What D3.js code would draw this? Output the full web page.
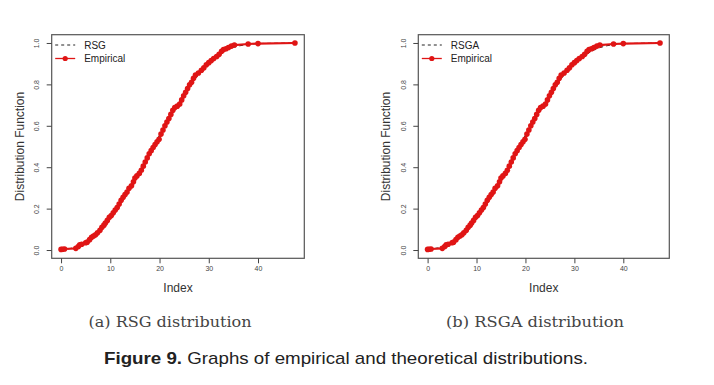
<!DOCTYPE html>
<html>
<head>
<meta charset="utf-8">
<script src="https://cdn.jsdelivr.net/npm/d3@7"></script>
<style>
  body { margin: 0; background: #fff; }
  svg { display: block; }
</style>
</head>
<body>
<svg id="fig" width="714" height="385"></svg>
<script>
// empirical distribution (sorted sample, cumulative proportion)
let empX = [0, 0.3, 0.7, 3.0, 3.5, 3.8, 4.2, 5.0, 5.3, 5.8, 6.2, 6.6, 7.0, 7.4, 7.9, 8.3, 8.7, 9.0, 9.4, 9.8,
    10.2, 10.6, 11.0, 11.4, 11.8, 12.2, 12.6, 13.0, 13.4, 13.8, 14.3, 14.7, 15.0, 15.4, 15.9, 16.3, 16.7, 17.1,
    17.5, 17.9, 18.3, 18.7, 19.1, 19.5, 19.9, 20.3, 20.7, 21.1, 21.5, 21.9, 22.3, 22.7, 23.1, 23.6, 24.1, 24.5,
    24.9, 25.3, 25.7, 26.1, 26.5, 26.9, 27.3, 27.9, 28.5, 29.0, 29.5, 30.0, 30.5, 31.0, 31.6, 32.1, 32.6, 33.0,
    33.5, 34.0, 34.6, 35.2, 38.0, 40.0, 47.5];
let empY = [0.003, 0.004, 0.005, 0.008, 0.017, 0.025, 0.028, 0.035, 0.038, 0.05, 0.062, 0.068, 0.074, 0.083, 0.095,
    0.11, 0.12, 0.13, 0.143, 0.158, 0.167, 0.18, 0.193, 0.205, 0.222, 0.24, 0.255, 0.268, 0.28, 0.298, 0.31, 0.33,
    0.348, 0.358, 0.37, 0.385, 0.405, 0.425, 0.445, 0.465, 0.48, 0.495, 0.51, 0.523, 0.535, 0.56, 0.58, 0.6, 0.618,
    0.635, 0.655, 0.675, 0.688, 0.695, 0.705, 0.725, 0.745, 0.762, 0.78, 0.798, 0.81, 0.83, 0.845, 0.855, 0.868,
    0.88, 0.895, 0.905, 0.915, 0.925, 0.935, 0.945, 0.96, 0.968, 0.972, 0.978, 0.985, 0.99, 0.995, 0.997, 1.0];

// theoretical curves
let theoX = [0, 2, 4, 6, 8, 10, 12, 14, 16, 18, 20, 22, 24, 26, 28, 30, 32, 34, 36, 38, 40, 44, 47.5];
let rsgY = [0.002, 0.008, 0.025, 0.055, 0.10, 0.155, 0.225, 0.30, 0.385, 0.47, 0.555, 0.64, 0.715, 0.785, 0.85,
    0.90, 0.94, 0.97, 0.985, 0.993, 0.997, 0.999, 1.0];
let rsgaY = [0.003, 0.01, 0.027, 0.057, 0.10, 0.152, 0.218, 0.295, 0.38, 0.468, 0.555, 0.64, 0.718, 0.787, 0.848,
    0.898, 0.937, 0.966, 0.983, 0.992, 0.996, 0.999, 1.0];

let xTicks = [0, 10, 20, 30, 40];
let yTicks = [0, 0.2, 0.4, 0.6, 0.8, 1.0];

let panels = [
    {left: 51.7, right: 304.3, name: 'RSG', theo: rsgY, caption: '(a) RSG distribution', capX: 170, capW: 163},
    {left: 418.3, right: 669.3, name: 'RSGA', theo: rsgaY, caption: '(b) RSGA distribution', capX: 535, capW: 178}
];
let plotTop = 34.7, plotBottom = 258.3;
let RED = '#e01515';
let SANS = 'Liberation Sans, Arial, sans-serif';

let svg = d3.select('#fig');

panels.forEach(p => {
    let x = d3.scaleLinear().domain([-1.9, 49.4]).range([p.left, p.right]);
    let y = d3.scaleLinear().domain([-0.04, 1.04]).range([plotBottom, plotTop]);
    let g = svg.append('g');

    // theoretical dashed
    let theoLine = d3.line().x((d, i) => x(theoX[i])).y(d => y(d)).curve(d3.curveMonotoneX);
    g.append('path')
        .attr('d', theoLine(p.theo))
        .attr('fill', 'none')
        .attr('stroke', '#222')
        .attr('stroke-width', 1)
        .attr('stroke-dasharray', '4,3');

    // empirical line + points
    let empLine = d3.line().x((d, i) => x(empX[i])).y(d => y(d));
    g.append('path')
        .attr('d', empLine(empY))
        .attr('fill', 'none')
        .attr('stroke', RED)
        .attr('stroke-width', 2.2);
    g.selectAll('circle.pt')
        .data(empY)
        .enter()
        .append('circle')
        .attr('class', 'pt')
        .attr('cx', (d, i) => x(empX[i]))
        .attr('cy', d => y(d))
        .attr('r', 2.8)
        .attr('fill', RED);

    // box
    g.append('rect')
        .attr('x', p.left).attr('y', plotTop)
        .attr('width', p.right - p.left).attr('height', plotBottom - plotTop)
        .attr('fill', 'none')
        .attr('stroke', '#555')
        .attr('stroke-width', 1.2);

    // axes
    let xAxis = d3.axisBottom(x).tickValues(xTicks).tickSize(5).tickPadding(3).tickFormat(d3.format('d'));
    let gx = g.append('g').attr('transform', 'translate(0,' + plotBottom + ')').call(xAxis);
    gx.select('.domain').remove();
    gx.selectAll('line').attr('stroke', '#444');
    gx.selectAll('text').attr('font-family', SANS).attr('font-size', 7).attr('fill', '#444');

    let yAxis = d3.axisLeft(y).tickValues(yTicks).tickSize(5).tickFormat(d3.format('.1f'));
    let gy = g.append('g').attr('transform', 'translate(' + p.left + ',0)').call(yAxis);
    gy.select('.domain').remove();
    gy.selectAll('line').attr('stroke', '#444');
    gy.selectAll('text')
        .attr('font-family', SANS)
        .attr('font-size', 7).attr('fill', '#444')
        .attr('x', 0).attr('dy', null)
        .attr('text-anchor', 'middle')
        .attr('transform', 'translate(-12.5,0) rotate(-90)');

    // axis titles
    g.append('text')
        .attr('x', (p.left + p.right) / 2).attr('y', 292)
        .attr('text-anchor', 'middle')
        .attr('font-family', SANS)
        .attr('font-size', 12).attr('fill', '#333')
        .text('Index');
    g.append('text')
        .attr('transform', 'translate(' + (p.left - 28) + ',' + (plotTop + plotBottom) / 2 + ') rotate(-90)')
        .attr('text-anchor', 'middle')
        .attr('font-family', SANS)
        .attr('font-size', 12).attr('fill', '#333')
        .text('Distribution Function');

    // legend
    let lx = p.left + 3.5;
    g.append('line')
        .attr('x1', lx).attr('x2', lx + 20).attr('y1', 45).attr('y2', 45)
        .attr('stroke', '#222').attr('stroke-dasharray', '3,3');
    g.append('text')
        .attr('x', lx + 29).attr('y', 48.5)
        .attr('font-family', SANS)
        .attr('font-size', 10).attr('fill', '#222')
        .text(p.name);
    g.append('line')
        .attr('x1', lx).attr('x2', lx + 20).attr('y1', 58.5).attr('y2', 58.5)
        .attr('stroke', RED).attr('stroke-width', 1.3);
    g.append('circle')
        .attr('cx', lx + 10).attr('cy', 58.5).attr('r', 2.6).attr('fill', RED);
    g.append('text')
        .attr('x', lx + 29).attr('y', 62)
        .attr('font-family', SANS)
        .attr('font-size', 10).attr('fill', '#222')
        .text('Empirical');

    // sub-caption
    svg.append('text')
        .attr('x', p.capX - p.capW / 2).attr('y', 327)
        .attr('font-family', 'DejaVu Serif, Liberation Serif, serif')
        .attr('font-size', 15).attr('fill', '#444')
        .attr('textLength', p.capW).attr('lengthAdjust', 'spacingAndGlyphs')
        .text(p.caption);
});

// figure caption
let cap = svg.append('text')
    .attr('x', 104).attr('y', 364)
    .attr('font-family', 'Liberation Sans Narrow, Liberation Sans, Arial, sans-serif')
    .attr('font-size', 17).attr('fill', '#222')
    .attr('textLength', 484).attr('lengthAdjust', 'spacingAndGlyphs');
cap.append('tspan').attr('font-weight', 'bold').text('Figure 9.');
cap.append('tspan').text(' Graphs of empirical and theoretical distributions.');
</script>
</body>
</html>
